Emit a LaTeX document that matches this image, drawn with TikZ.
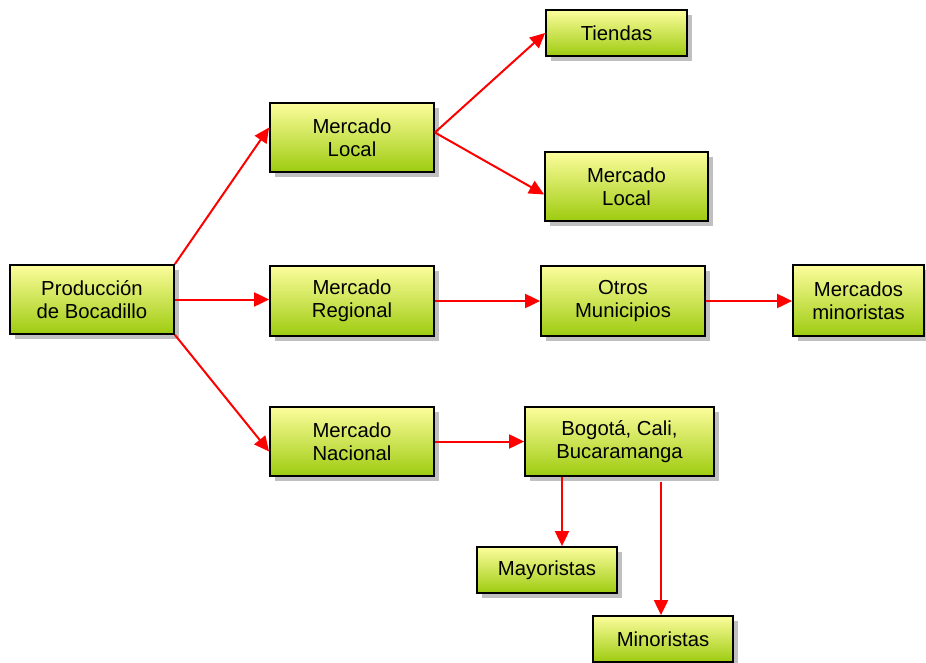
\documentclass[tikz,border=0pt]{standalone}
\usepackage{fontspec}
\setmainfont{Liberation Sans}
\usetikzlibrary{shadows,arrows.meta}
\definecolor{boxtop}{HTML}{FCFD9C}
\definecolor{boxbot}{HTML}{9ECB10}
\definecolor{shadowgray}{HTML}{C0C0C0}
\tikzset{
  box/.style={rectangle, draw=black, line width=1.8pt, top color=boxtop, bottom color=boxbot,
    inner sep=0pt, align=center, font=\fontsize{20.3}{23}\selectfont,
    drop shadow={shadow xshift=5pt, shadow yshift=-5pt, fill=shadowgray, opacity=1}},
  arr/.style={draw=red, line width=2pt, -{Triangle[length=15pt,width=14pt]}, red}
}
\begin{document}
\begin{tikzpicture}[x=1pt,y=-1pt]
\useasboundingbox (0,0) rectangle (926,663);
\node[box, minimum width=164pt, minimum height=69pt] (prod) at (92,299.5) {Producción\\de Bocadillo};
\node[box, minimum width=164pt, minimum height=69pt] (ml) at (352,137.5) {Mercado\\Local};
\node[box, minimum width=141pt, minimum height=46pt] (tie) at (616.5,33) {Tiendas};
\node[box, minimum width=163pt, minimum height=69pt] (mlr) at (626.5,186.5) {Mercado\\Local};
\node[box, minimum width=164pt, minimum height=70pt] (reg) at (352,301) {Mercado\\Regional};
\node[box, minimum width=164pt, minimum height=70pt] (otr) at (623,301) {Otros\\Municipios};
\node[box, minimum width=131pt, minimum height=71pt] (mmin) at (858.5,300.5) {Mercados\\minoristas};
\node[box, minimum width=164pt, minimum height=69pt] (nac) at (352,441.5) {Mercado\\Nacional};
\node[box, minimum width=189pt, minimum height=69pt] (bog) at (619.5,441.5) {Bogotá, Cali,\\Bucaramanga};
\node[box, minimum width=140pt, minimum height=46pt] (may) at (547,570) {Mayoristas};
\node[box, minimum width=140pt, minimum height=46pt] (mino) at (663,639) {Minoristas};

\draw[arr] (prod.north east) -- ([yshift=10pt]ml.west);
\draw[arr] (prod.east) -- (prod.east -| reg.west);
\draw[arr] (prod.south east) -- ([yshift=-10pt]nac.west);
\draw[arr] ([yshift=5pt]ml.east) -- (tie.west);
\draw[arr] ([yshift=5pt]ml.east) -- ([yshift=-8pt]mlr.west);
\draw[arr] (reg.east) -- (otr.west);
\draw[arr] (otr.east) -- (otr.east -| mmin.west);
\draw[arr] (nac.east) -- (bog.west);
\draw[arr] ([xshift=15pt]may.north |- bog.south) -- ([xshift=15pt]may.north);
\draw[arr] ([xshift=-2pt,yshift=-5pt]mino.north |- bog.south) -- ([xshift=-2pt]mino.north);
\end{tikzpicture}
\end{document}
